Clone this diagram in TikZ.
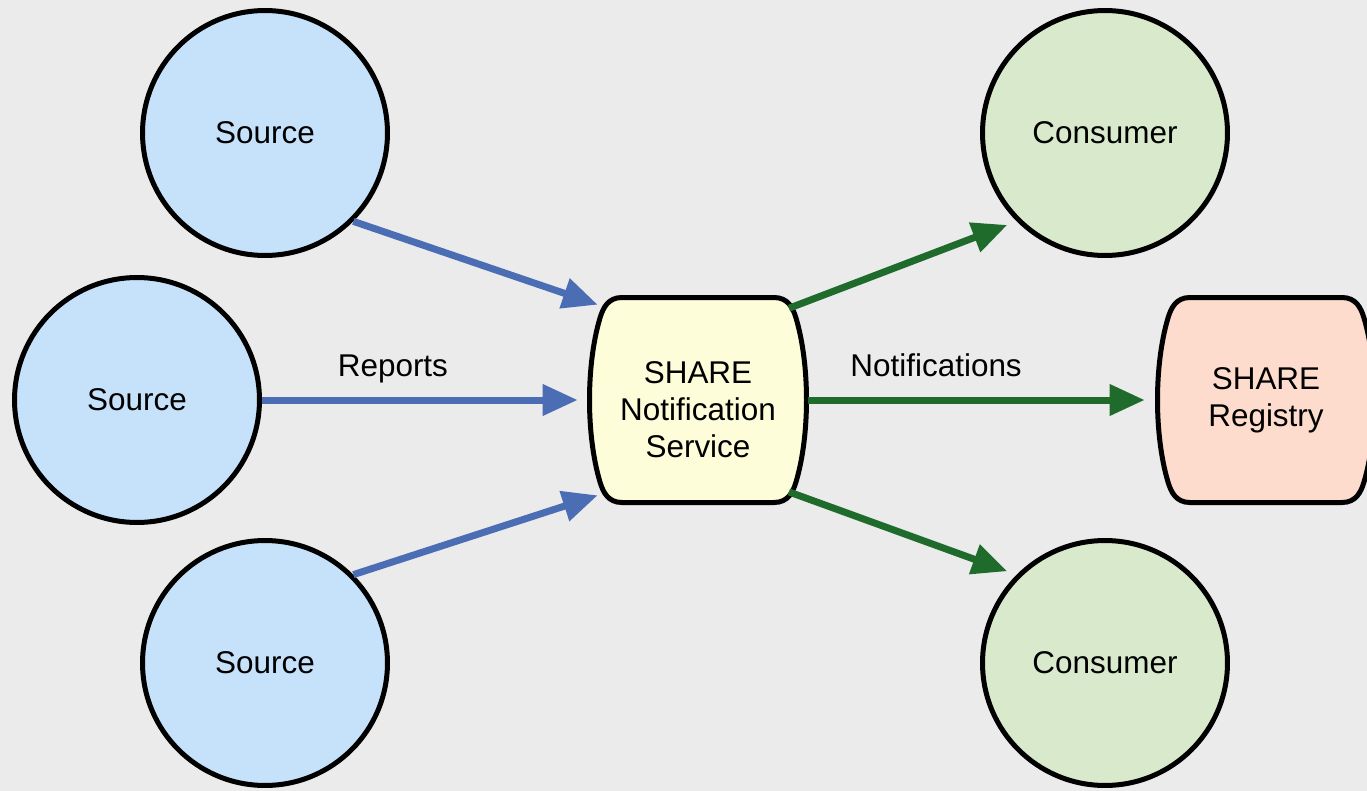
\documentclass[tikz,border=0pt]{standalone}
\usepackage{fontspec}
\setmainfont{Liberation Sans}
\usetikzlibrary{arrows.meta,backgrounds}
\definecolor{bgcolor}{HTML}{EBEBEB}
\definecolor{srcfill}{HTML}{C6E2FB}
\definecolor{srcline}{HTML}{4A6DB3}
\definecolor{consfill}{HTML}{D9EACC}
\definecolor{consline}{HTML}{1F6B2B}
\definecolor{svcfill}{HTML}{FDFDD9}
\definecolor{regfill}{HTML}{FDDCCD}
\begin{document}
\begin{tikzpicture}[x=.02cm, y=-.02cm, font=\fontsize{17.9}{21}\selectfont,
main node/.style={circle,draw,line width=.1cm,minimum size=4.9cm,inner sep=0pt},
cask node/.style={minimum width=4cm,minimum height=3.8cm,inner sep=0pt,align=center},
cask/.pic={\draw[line width=.1cm,pic actions] (-76,-102.5) -- (76,-102.5)
  .. controls (90,-102.5) and (95,-92) .. (98,-82)
  .. controls (112,-35) and (112,35) .. (98,82)
  .. controls (95,92) and (90,102.5) .. (76,102.5) -- (-76,102.5)
  .. controls (-90,102.5) and (-95,92) .. (-98,82)
  .. controls (-112,35) and (-112,-35) .. (-98,-82)
  .. controls (-95,-92) and (-90,-102.5) .. cycle;}]
\useasboundingbox (0,0) rectangle (1367,791);
\node[main node,fill=srcfill] (src1) at (265,133) {Source};
\node[main node,fill=srcfill] (src2) at (137,400) {Source};
\node[main node,fill=srcfill] (src3) at (265,663) {Source};
\node[cask node,text height=2.3cm] (svc) at (698,400) {SHARE\\Notification\\Service};
\node[cask node] (reg) at (1266,400) {SHARE\\Registry};
\node[main node,fill=consfill] (con1) at (1105,133) {Consumer};
\node[main node,fill=consfill] (con2) at (1105,663) {Consumer};
\begin{scope}[on background layer]
\fill[bgcolor] (0,0) rectangle (1367,791);
\pic[fill=svcfill] at (svc) {cask};
\pic[fill=regfill] at (reg) {cask};
\end{scope}
\begin{scope}[every edge/.style={draw=srcline,line width=.14cm,-{Triangle[length=.7cm,width=.6cm]}}]
\draw (src1.-45) edge (svc.north west);
\draw (src2) edge[shorten >=.4cm] node[pos=.39,anchor=base,yshift=.48cm]{Reports} (svc);
\draw (src3.45) edge (svc.south west);
\end{scope}
\begin{scope}[every edge/.style={draw=consline,line width=.14cm,-{Triangle[length=.7cm,width=.6cm]}}]
\draw (svc.north east) edge[shorten <=-.2cm,shorten >=.2cm] (con1.-135);
\draw (svc) edge[shorten <=.2cm,shorten >=.42cm] node[pos=.375,anchor=base,yshift=.48cm]{Notifications} (reg);
\draw (svc.south east) edge[shorten <=-.2cm,shorten >=.2cm] (con2.135);
\end{scope}
\end{tikzpicture}
\end{document}
